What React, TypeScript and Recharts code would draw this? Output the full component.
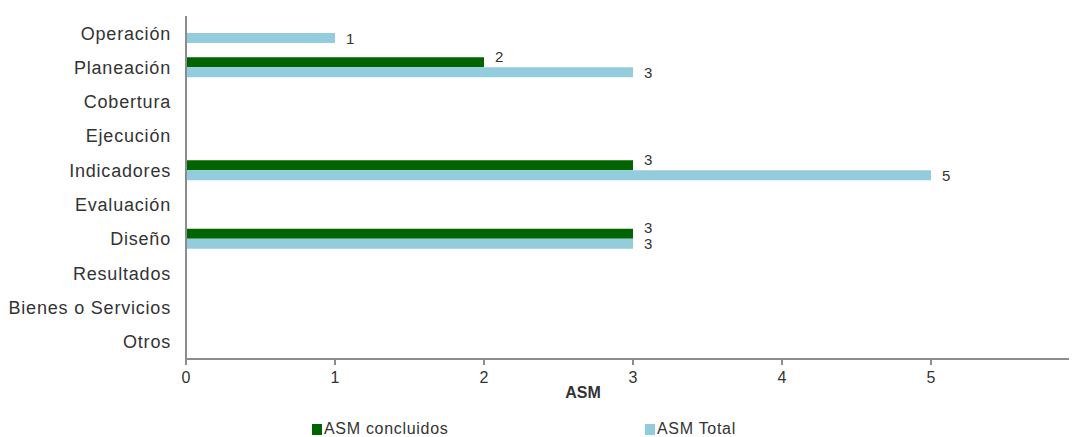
import React from "react";
import { BarChart, Bar, XAxis, YAxis, Legend, LabelList, Label } from "recharts";

const categories = [
  "Operación",
  "Planeación",
  "Cobertura",
  "Ejecución",
  "Indicadores",
  "Evaluación",
  "Diseño",
  "Resultados",
  "Bienes o Servicios",
  "Otros",
];
const concluidos = [null, 2, null, null, 3, null, 3, null, null, null];
const total = [1, 3, null, null, 5, null, 3, null, null, null];
const xTicks = [0, 1, 2, 3, 4, 5, 6];

const GREEN = "#006400";
const BLUE = "#93cddd";
const AXIS = "#8c8c8c";
const TEXT = "#333333";
const FONT = "'Liberation Sans', Arial, sans-serif";

const data = categories.map((name, i) => ({
  name,
  concluidos: concluidos[i],
  total: total[i],
}));

function valueLabel(dy: number) {
  return (props: any) => {
    const { x, y, width, height, value } = props;
    if (value === null || value === undefined) return null;
    return (
      <text
        x={x + width + 11}
        y={y + height / 2 + dy}
        dominantBaseline="central"
        fontSize={15}
        fill={TEXT}
        fontFamily={FONT}
      >
        {value}
      </text>
    );
  };
}

function LegendContent() {
  const items = [
    { label: "ASM concluidos", color: GREEN, left: 0 },
    { label: "ASM Total", color: BLUE, left: 333 },
  ];
  return (
    <div style={{ position: "relative", height: 20, fontFamily: FONT, fontSize: 16, letterSpacing: 0.7, color: TEXT }}>
      {items.map((it) => (
        <div
          key={it.label}
          style={{ position: "absolute", left: it.left, top: 0, display: "flex", alignItems: "center" }}
        >
          <span style={{ width: 10, height: 11, background: it.color, display: "inline-block", marginRight: 2 }} />
          <span>{it.label}</span>
        </div>
      ))}
    </div>
  );
}

export default function App() {
  return (
    <div style={{ width: 1069, height: 429, overflow: "hidden", background: "#fff" }}>
      <BarChart
        width={1100}
        height={429}
        data={data}
        layout="vertical"
        margin={{ top: 8, right: 28, bottom: 13, left: 0 }}
        barSize={10}
        barGap={0}
      >
        <XAxis
          type="number"
          domain={[0, 6]}
          ticks={xTicks}
          interval={0}
          height={45}
          stroke={AXIS}
          strokeWidth={2}
          tickSize={6}
          tickMargin={7}
          tick={{ fontSize: 16, fill: TEXT, fontFamily: FONT }}
        >
          <Label
            value="ASM"
            position="insideBottom"
            dx={-50}
            offset={6}
            style={{ fontSize: 16, fontWeight: "bold", fill: TEXT, fontFamily: FONT }}
          />
        </XAxis>
        <YAxis
          type="category"
          dataKey="name"
          width={178}
          interval={0}
          stroke={AXIS}
          strokeWidth={2}
          tickLine={false}
          tickSize={6}
          tickMargin={9}
          tick={{ fontSize: 18, fill: TEXT, fontFamily: FONT, letterSpacing: 0.8 }}
        />
        <Legend
          verticalAlign="bottom"
          wrapperStyle={{ left: 304, top: 412, width: 500 }}
          content={() => <LegendContent />}
        />
        <Bar dataKey="concluidos" name="ASM concluidos" fill={GREEN} isAnimationActive={false}>
          <LabelList dataKey="concluidos" content={valueLabel(-6)} />
        </Bar>
        <Bar dataKey="total" name="ASM Total" fill={BLUE} isAnimationActive={false}>
          <LabelList dataKey="total" content={valueLabel(0)} />
        </Bar>
      </BarChart>
    </div>
  );
}
